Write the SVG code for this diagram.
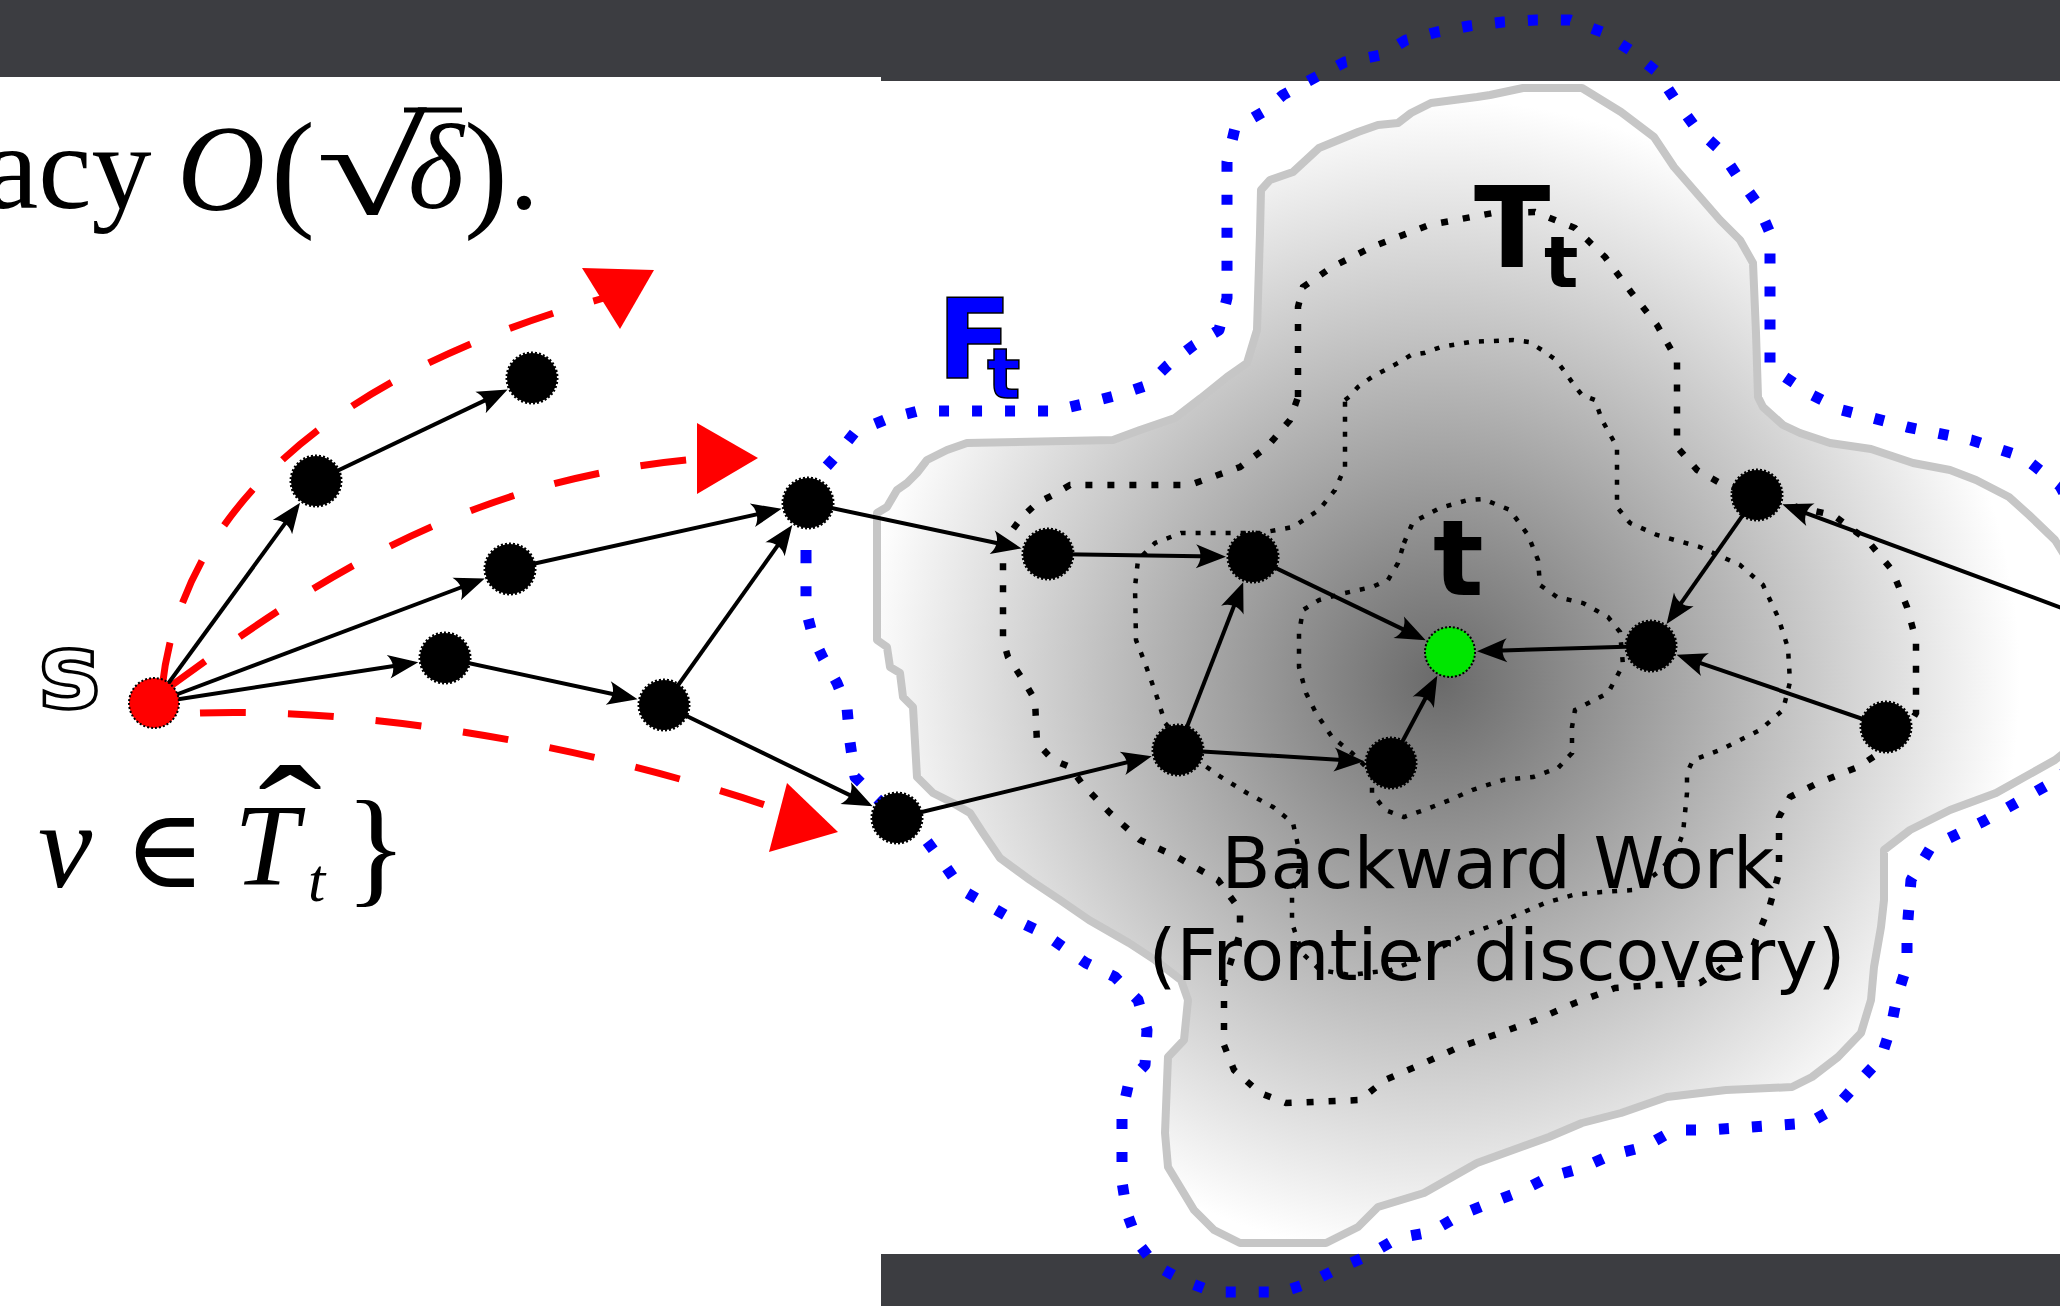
<svg xmlns="http://www.w3.org/2000/svg" width="2060" height="1306" viewBox="0 0 2060 1306">
<defs>
  <radialGradient id="blobGrad" gradientUnits="userSpaceOnUse" cx="1440" cy="680" r="580">
    <stop offset="0" stop-color="#6a6a6a"/>
    <stop offset="1" stop-color="#ffffff"/>
  </radialGradient>
  <marker id="ah" markerUnits="userSpaceOnUse" viewBox="-32 -14 34 28" refX="-10" refY="0" markerWidth="34" markerHeight="28" orient="auto">
    <path d="M0,0 L-30,-12 C-24,-5 -24,5 -30,12 Z" fill="#000"/>
  </marker>
</defs>
<style>
  .edge { stroke:#000; stroke-width:4; fill:none; marker-end:url(#ah); }
  .node { fill:#000; stroke:#000; stroke-width:3; stroke-dasharray:2 2; }
  .reddash { stroke:#ff0000; stroke-width:7; fill:none; stroke-dasharray:46 42; }
  .redhead { fill:#ff0000; }
  .outer { stroke:#000; stroke-width:6.5; fill:none; stroke-dasharray:7 15; }
  .thin { stroke:#000; stroke-width:4.5; fill:none; stroke-dasharray:5 10; }
  .blue { stroke:#0000ff; stroke-width:11; fill:none; stroke-dasharray:10 23; stroke-linejoin:round; }
  .lbl { font-family:"DejaVu Sans", sans-serif; }
  .tex { font-family:"Liberation Serif", "DejaVu Serif", serif; fill:#000; }
</style>

<!-- background -->
<rect x="0" y="0" width="2060" height="1306" fill="#3c3d41"/>
<rect x="0" y="77" width="881" height="1229" fill="#ffffff"/>
<rect x="881" y="81" width="1179" height="1173" fill="#ffffff"/>

<!-- math text -->
<g id="math-top">
  <text class="tex" font-size="120" x="-15" y="208">acy</text>
  <text class="tex" font-size="122" font-style="italic" x="177" y="210">O</text>
  <text class="tex" font-size="132" x="271" y="213">(</text>
  <text class="tex" font-size="135" transform="translate(316,214) scale(1.5,1)" x="0" y="0">√</text>
  <line x1="404" y1="110" x2="462" y2="110" stroke="#000" stroke-width="5"/>
  <text class="tex" font-size="120" font-style="italic" x="408" y="208">δ</text>
  <text class="tex" font-size="132" x="464" y="213">)</text>
  <text class="tex" font-size="120" x="509" y="208">.</text>
</g>
<g id="math-bottom">
  <text class="tex" font-size="122" font-style="italic" x="38" y="887">v</text>
  <text class="tex" font-size="110" x="124" y="887">∈</text>
  <text class="tex" font-size="116" font-style="italic" x="234" y="885">T</text>
  <text class="tex" font-size="160" transform="translate(290,0) scale(1.2,1)" text-anchor="middle" x="0" y="877">ˆ</text>
  <text class="tex" font-size="62" font-style="italic" x="308" y="901">t</text>
  <text class="tex" font-size="129" x="345" y="890">}</text>
</g>

<!-- gray region -->
<g id="region-gray">
  <path d="M 877,513 L 887,507 L 897,490 L 907,483 L 917,473 L 927,460 L 947,450 L 967,443 L 1113,440 L 1140,430 L 1175,418 L 1201,398 L 1227,377 L 1247,363 L 1257,330 L 1260,233 L 1261,190 L 1270,180 L 1293,172 L 1306,160 L 1319,148 L 1358,132 L 1378,125 L 1398,123 L 1411,113 L 1431,103 L 1477,97 L 1490,95 L 1523,88 L 1582,88 L 1621,112 L 1654,137 L 1674,167 L 1700,197 L 1720,220 L 1740,240 L 1753,263 L 1756,333 L 1758,397 L 1763,407 L 1783,425 L 1800,433 L 1830,443 L 1871,449 L 1913,463 L 1950,470 L 1976,480 L 2009,497 L 2029,515 L 2055,540 L 2080,580 L 2080,740 L 2055,760 L 1996,793 L 1950,810 L 1910,830 L 1884,850 L 1884,900 L 1881,927 L 1874,967 L 1871,1000 L 1861,1033 L 1838,1057 L 1812,1077 L 1792,1087 L 1726,1090 L 1667,1097 L 1621,1113 L 1582,1123 L 1549,1137 L 1477,1163 L 1424,1193 L 1378,1207 L 1358,1227 L 1326,1243 L 1240,1243 L 1214,1230 L 1194,1210 L 1168,1167 L 1165,1133 L 1168,1057 L 1184,1040 L 1188,1000 L 1181,980 L 1155,960 L 1129,943 L 1089,920 L 1060,900 L 1030,880 L 1000,858 L 983,833 L 970,813 L 953,803 L 933,793 L 917,777 L 913,707 L 903,697 L 900,673 L 890,667 L 887,647 L 877,640 Z" fill="url(#blobGrad)" stroke="#c6c6c6" stroke-width="8" stroke-linejoin="round"/>
</g>

<!-- dotted contours -->
<g id="contour-Tt">
  <path class="outer" d="M 1298,397 L 1298,307 L 1303,287 L 1332,267 L 1372,247 L 1429,225 L 1493,213 L 1535,212 L 1575,228 L 1605,257 L 1631,292 L 1657,325 L 1677,360 L 1677,447 L 1697,470 L 1720,483 L 1757,495 L 1800,508 L 1833,515 L 1867,540 L 1892,570 L 1907,607 L 1916,640 L 1916,713 L 1900,740 L 1884,750 L 1858,767 L 1818,783 L 1790,797 L 1779,817 L 1779,873 L 1770,905 L 1753,947 L 1700,983 L 1654,985 L 1615,988 L 1575,1003 L 1536,1020 L 1500,1033 L 1457,1048 L 1424,1063 L 1385,1080 L 1360,1100 L 1286,1103 L 1260,1093 L 1234,1070 L 1224,1045 L 1224,983 L 1240,933 L 1240,910 L 1218,880 L 1177,857 L 1140,840 L 1110,813 L 1083,785 L 1070,767 L 1053,760 L 1037,743 L 1035,700 L 1025,683 L 1008,657 L 1003,640 L 1003,553 L 1010,533 L 1022,517 L 1037,503 L 1053,495 L 1070,485 L 1190,485 L 1240,467 L 1267,447 L 1290,420 Z"/>
</g>
<g id="contour-middle">
  <path class="thin" d="M 1345,400 L 1349,397 L 1358,387 L 1372,377 L 1385,370 L 1398,363 L 1411,355 L 1424,353 L 1441,347 L 1470,342 L 1513,340 L 1529,342 L 1542,350 L 1556,360 L 1565,372 L 1574,385 L 1582,395 L 1595,400 L 1602,420 L 1617,447 L 1617,507 L 1630,523 L 1657,535 L 1700,547 L 1740,565 L 1763,585 L 1778,617 L 1788,648 L 1790,682 L 1783,710 L 1760,730 L 1720,750 L 1693,760 L 1687,773 L 1687,793 L 1683,833 L 1675,855 L 1657,873 L 1633,890 L 1602,892 L 1573,895 L 1545,903 L 1517,915 L 1488,927 L 1460,937 L 1424,957 L 1391,970 L 1350,975 L 1320,970 L 1302,953 L 1292,923 L 1292,893 L 1299,870 L 1299,850 L 1293,823 L 1273,807 L 1247,793 L 1221,777 L 1201,763 L 1165,723 L 1158,700 L 1145,663 L 1136,640 L 1135,587 L 1138,560 L 1155,543 L 1181,533 L 1260,533 L 1293,527 L 1319,510 L 1335,490 L 1345,467 Z"/>
</g>
<g id="contour-inner">
  <path class="thin" d="M 1404,543 L 1413,522 L 1440,508 L 1468,500 L 1483,499 L 1510,510 L 1528,535 L 1538,560 L 1540,585 L 1557,597 L 1583,603 L 1608,617 L 1620,632 L 1623,665 L 1608,693 L 1575,710 L 1572,727 L 1572,753 L 1558,768 L 1533,777 L 1503,780 L 1472,790 L 1450,800 L 1424,810 L 1404,817 L 1385,810 L 1372,793 L 1372,773 L 1352,753 L 1332,737 L 1316,713 L 1306,693 L 1299,667 L 1299,633 L 1303,610 L 1319,600 L 1345,593 L 1372,587 L 1388,580 L 1398,563 Z"/>
</g>

<!-- blue frontier outline -->
<g id="frontier-Ft">
  <path class="blue" d="M 806,560 L 806,543 L 808,505 L 817,477 L 837,455 L 855,432 L 887,419 L 918,411 L 1053,411 L 1087,403 L 1118,395 L 1148,385 L 1168,365 L 1194,345 L 1219,330 L 1227,298 L 1227,162 L 1235,128 L 1263,112 L 1283,95 L 1316,77 L 1345,62 L 1381,55 L 1406,40 L 1437,32 L 1469,26 L 1503,22 L 1536,20 L 1570,20 L 1602,32 L 1630,50 L 1657,72 L 1674,98 L 1695,127 L 1720,150 L 1738,177 L 1757,203 L 1770,233 L 1770,367 L 1785,377 L 1812,395 L 1842,410 L 1873,418 L 1907,427 L 1971,440 L 2023,457 L 2060,486 L 2090,540 L 2090,740 L 2060,778 L 2030,795 L 1984,821 L 1931,847 L 1911,880 L 1907,932 L 1907,965 L 1897,997 L 1891,1027 L 1881,1058 L 1858,1083 L 1835,1108 L 1809,1123 L 1707,1130 L 1674,1130 L 1644,1147 L 1611,1155 L 1582,1168 L 1549,1177 L 1519,1192 L 1490,1203 L 1460,1215 L 1431,1232 L 1398,1238 L 1365,1257 L 1335,1270 L 1309,1283 L 1282,1292 L 1214,1292 L 1182,1280 L 1155,1265 L 1138,1243 L 1127,1213 L 1122,1182 L 1122,1113 L 1129,1082 L 1145,1065 L 1147,1030 L 1138,1000 L 1115,977 L 1086,963 L 1043,933 L 1005,915 L 962,890 L 946,867 L 926,840 L 897,818 L 855,777 L 850,742 L 847,708 L 837,683 L 823,658 L 813,637 L 806,610 Z"/>
</g>

<!-- connectors -->
<g id="connectors">
  <path class="reddash" d="M 162,688 C 185,480 380,360 604,298"/>
  <polygon class="redhead" points="582,268 654,270 620,329"/>
  <path class="reddash" d="M 168,688 C 290,600 450,480 698,459"/>
  <polygon class="redhead" points="697,423 758,458 697,494"/>
  <path class="reddash" d="M 200,713 C 340,708 560,735 780,810"/>
  <polygon class="redhead" points="787,783 838,832 769,852"/>

  <line class="edge" x1="154" y1="703" x2="294.2" y2="510.9"/>
  <line class="edge" x1="154" y1="703" x2="475.4" y2="582.0"/>
  <line class="edge" x1="154" y1="703" x2="408.4" y2="663.7"/>
  <line class="edge" x1="316" y1="481" x2="498.6" y2="393.9"/>
  <line class="edge" x1="510" y1="569" x2="771.9" y2="511.0"/>
  <line class="edge" x1="445" y1="658" x2="627.8" y2="697.2"/>
  <line class="edge" x1="664" y1="705" x2="786.5" y2="533.1"/>
  <line class="edge" x1="664" y1="705" x2="863.7" y2="801.9"/>
  <line class="edge" x1="808" y1="503" x2="1011.8" y2="546.3"/>
  <line class="edge" x1="1048" y1="554" x2="1216" y2="556.5"/>
  <line class="edge" x1="897" y1="818" x2="1142" y2="758.7"/>
  <line class="edge" x1="1178" y1="750" x2="1239.6" y2="591.5"/>
  <line class="edge" x1="1178" y1="750" x2="1354.1" y2="760.7"/>
  <line class="edge" x1="1253" y1="557" x2="1416.7" y2="635.9"/>
  <line class="edge" x1="1391" y1="763" x2="1432.6" y2="684.7"/>
  <line class="edge" x1="1651" y1="646" x2="1487" y2="650.9"/>
  <line class="edge" x1="1757" y1="495" x2="1672.3" y2="615.7"/>
  <line class="edge" x1="1886" y1="727" x2="1686" y2="658.1"/>
  <line class="edge" x1="2070" y1="611" x2="1791.7" y2="507.8"/>
</g>

<!-- nodes -->
<g id="node-s"><circle cx="154" cy="703" r="25" fill="#ff0000" stroke="#000" stroke-width="2" stroke-dasharray="2 2"/></g>
<g id="node-1"><circle class="node" cx="316" cy="481" r="25"/></g>
<g id="node-2"><circle class="node" cx="532" cy="378" r="25"/></g>
<g id="node-3"><circle class="node" cx="510" cy="569" r="25"/></g>
<g id="node-4"><circle class="node" cx="445" cy="658" r="25"/></g>
<g id="node-5"><circle class="node" cx="664" cy="705" r="25"/></g>
<g id="node-6"><circle class="node" cx="808" cy="503" r="25"/></g>
<g id="node-7"><circle class="node" cx="897" cy="818" r="25"/></g>
<g id="node-8"><circle class="node" cx="1048" cy="554" r="25"/></g>
<g id="node-9"><circle class="node" cx="1253" cy="557" r="25"/></g>
<g id="node-10"><circle class="node" cx="1178" cy="750" r="25"/></g>
<g id="node-11"><circle class="node" cx="1391" cy="763" r="25"/></g>
<g id="node-t"><circle cx="1450" cy="652" r="25" fill="#00e600" stroke="#000" stroke-width="2" stroke-dasharray="2 2"/></g>
<g id="node-12"><circle class="node" cx="1651" cy="646" r="25"/></g>
<g id="node-13"><circle class="node" cx="1757" cy="495" r="25"/></g>
<g id="node-14"><circle class="node" cx="1886" cy="727" r="25"/></g>

<!-- labels -->
<g id="label-s"><text class="lbl" x="38" y="708" font-size="106" font-weight="bold" fill="#fff" stroke="#000" stroke-width="3.5">s</text></g>
<g id="label-t"><text class="lbl" x="1433" y="595" font-size="106" font-weight="bold" fill="#000">t</text></g>
<g id="label-Tt">
  <text class="lbl" font-weight="bold" fill="#000"><tspan x="1474" y="267" font-size="112">T</tspan><tspan x="1544" y="287" font-size="72">t</tspan></text>
</g>
<g id="label-Ft">
  <text class="lbl" font-weight="bold" fill="#0000ff" stroke="#000" stroke-width="1.5"><tspan x="937" y="378" font-size="110">F</tspan><tspan x="987" y="398" font-size="70">t</tspan></text>
</g>
<g id="label-backward">
  <text class="lbl" x="1498" y="888" font-size="71" text-anchor="middle" fill="#000" textLength="553" lengthAdjust="spacingAndGlyphs">Backward Work</text>
  <text class="lbl" x="1497" y="980" font-size="71" text-anchor="middle" fill="#000" textLength="697" lengthAdjust="spacingAndGlyphs">(Frontier discovery)</text>
</g>
</svg>
